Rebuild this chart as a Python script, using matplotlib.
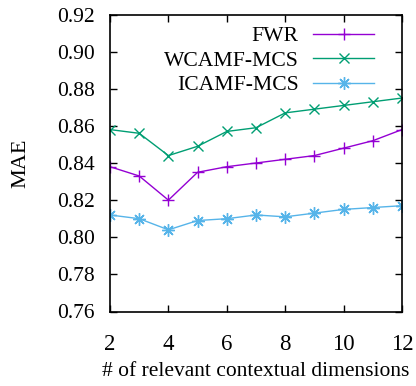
import matplotlib
matplotlib.use("Agg")
import matplotlib.pyplot as plt
from matplotlib.ticker import MultipleLocator

plt.rcParams['font.family'] = ['Liberation Serif', 'DejaVu Serif']

# number of relevant contextual dimensions
dims = [2, 3, 4, 5, 6, 7, 8, 9, 10, 11, 12]

fwr = [0.838, 0.833, 0.820, 0.835, 0.838, 0.840, 0.842, 0.844, 0.848, 0.852, 0.858]
wcamf_mcs = [0.858, 0.856, 0.844, 0.849, 0.857, 0.859, 0.867, 0.869, 0.871, 0.873, 0.875]
icamf_mcs = [0.812, 0.810, 0.804, 0.809, 0.810, 0.812, 0.811, 0.813, 0.815, 0.816, 0.817]

fig = plt.figure(figsize=(4.16, 3.86), dpi=100)
ax = fig.add_axes([110 / 416, 1 - 311.5 / 386, 292 / 416, 297 / 386])

ax.plot(dims, fwr, color='#9400D3', marker='+', markersize=8, lw=1, mew=1, label='FWR')
ax.plot(dims, wcamf_mcs, color='#009E73', marker='x', markersize=7, lw=1, mew=1, label='WCAMF-MCS')
ax.plot(dims, icamf_mcs, color='#56B4E9', marker=(8, 2, 0), markersize=9, lw=1, mew=1, label='ICAMF-MCS')

ax.set_xlim(2, 12)
ax.set_ylim(0.76, 0.92)
ax.xaxis.set_major_locator(MultipleLocator(2))
ax.yaxis.set_major_locator(MultipleLocator(0.02))
ax.yaxis.set_major_formatter(plt.FormatStrFormatter('%.2f'))
ax.tick_params(direction='in', top=True, right=True, length=5, width=1)
ax.tick_params(axis='x', labelsize=16.5, pad=16)
ax.tick_params(axis='y', labelsize=15.5, pad=11)
for s in ax.spines.values():
    s.set_linewidth(1.2)

ax.set_ylabel('MAE', fontsize=16, labelpad=19)
ax.set_xlabel('# of relevant contextual dimensions', fontsize=15.5, labelpad=5)

leg = ax.legend(loc='upper right', bbox_to_anchor=(0.956, 1.012), frameon=False,
                fontsize=15.6, markerfirst=False, handlelength=2.8,
                handletextpad=0.68, labelspacing=0.2, borderaxespad=0.3)

fig.savefig('out.png', dpi=100)
